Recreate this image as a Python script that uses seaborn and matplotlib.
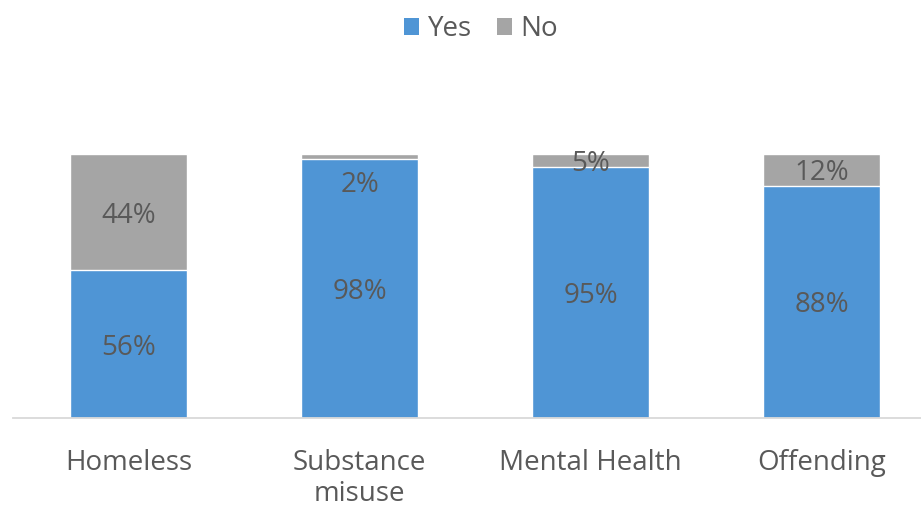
import matplotlib
matplotlib.use("Agg")
import matplotlib.pyplot as plt
import seaborn as sns
import pandas as pd
import numpy as np
from matplotlib.patches import Patch

categories = ["Homeless", "Substance\nmisuse", "Mental Health", "Offending"]
yes_vals = [56, 98, 95, 88]
no_vals = [44, 2, 5, 12]

sns.set_theme(style="white")
plt.rcParams['font.family'] = ['Open Sans', 'DejaVu Sans']

YES_C = "#4F95D5"
NO_C = "#A5A5A5"
TXT = "#595959"

W, H = 921, 508
fig = plt.figure(figsize=(W / 100, H / 100), dpi=100)
left_px, right_px = 13, 937
bot_px, top_px = 418, 154
ax = fig.add_axes([left_px / W, 1 - bot_px / H, (right_px - left_px) / W, (bot_px - top_px) / H])

df = pd.DataFrame({"cat": categories, "Yes": yes_vals, "No": no_vals})
df["total"] = df["Yes"] + df["No"]

sns.barplot(data=df, x="cat", y="total", color=NO_C, width=0.507, ax=ax, saturation=1)
sns.barplot(data=df, x="cat", y="Yes", color=YES_C, width=0.507, ax=ax, saturation=1)
if ax.get_legend() is not None:
    ax.get_legend().remove()

ax.set_ylim(0, 100)
ax.set_xlim(-0.5, 3.5)
ax.set_xlabel("")
ax.set_ylabel("")
ax.set_yticks([])
for s in ["top", "right", "left"]:
    ax.spines[s].set_visible(False)
ax.spines["bottom"].set_color("#D9D9D9")
ax.spines["bottom"].set_linewidth(1.3)
ax.tick_params(axis="x", length=0, pad=22, labelsize=20, labelcolor=TXT)
for t in ax.get_xticklabels():
    t.set_linespacing(1.15)
    t.set_verticalalignment("top")

for i, (y, n) in enumerate(zip(yes_vals, no_vals)):
    ax.text(i, y / 2, f"{y}%", ha="center", va="center_baseline", fontsize=20, color=TXT)
    ny = y + n / 2
    if n < 3:
        ny = 100 - 10.5
    ax.text(i, ny, f"{n}%", ha="center", va="center_baseline", fontsize=20, color=TXT)

handles = [Patch(facecolor=YES_C, edgecolor="none"), Patch(facecolor=NO_C, edgecolor="none")]
fig.legend(handles, ["Yes", "No"], loc="center", bbox_to_anchor=(481 / W, 1 - 29 / H), ncol=2,
           frameon=False, fontsize=20, labelcolor=TXT, handlelength=0.55, handleheight=0.55,
           handletextpad=0.3, columnspacing=0.9)

fig.savefig("out.png", dpi=100, facecolor="white")
